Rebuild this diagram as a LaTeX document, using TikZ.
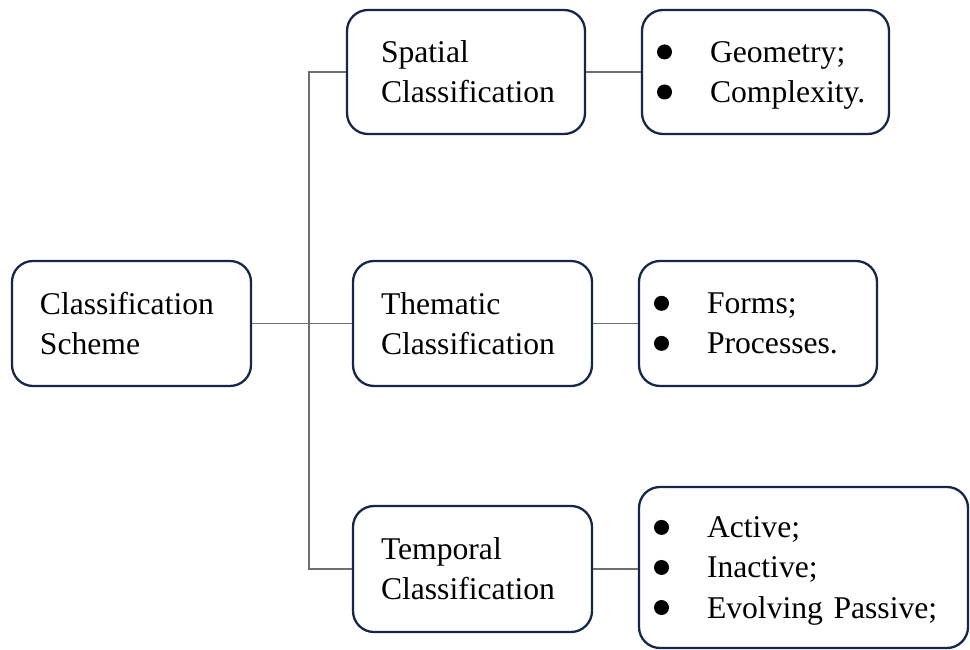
\documentclass[tikz,border=0pt]{standalone}
\usepackage{fontspec}
\setmainfont{Liberation Serif}
\definecolor{boxline}{RGB}{22,38,72}
\definecolor{linkgray}{RGB}{110,110,110}
\newcommand{\itemdot}{\makebox[1.06cm][l]{\tikz[baseline=0pt]\fill (0.15,0.21) circle (0.15cm);}}
\tikzset{
  box/.style={draw=boxline, line width=1.3pt, rounded corners=0.42cm, fill=white,
    align=left, inner xsep=0.56cm, inner ysep=0pt,
    font=\fontsize{18}{22.8}\selectfont},
  listbox/.style={box, inner xsep=0.3cm},
  link/.style={draw=linkgray, line width=0.8pt}
}
\begin{document}
\begin{tikzpicture}
  \useasboundingbox (0,0) rectangle (19.4,-13);

  \node[box, text width=3.66cm, minimum height=2.5cm] (scheme) at (2.63,-6.47) {Classification\\Scheme};
  \node[box, inner xsep=0.68cm, text width=3.4cm, minimum height=2.48cm] (spatial) at (9.32,-1.44) {Spatial\\Classification};
  \node[box, text width=3.66cm, minimum height=2.5cm] (thematic) at (9.45,-6.47) {Thematic\\Classification};
  \node[box, text width=3.66cm, minimum height=2.52cm] (temporal) at (9.45,-11.38) {Temporal\\Classification};

  % last lines smashed so descenders do not lift the lists
  \node[listbox, text width=4.34cm, minimum height=2.48cm] (geom) at (15.31,-1.44) {\itemdot Geometry;\\\smash{\itemdot Complexity.}};
  \node[listbox, text width=4.16cm, minimum height=2.5cm] (forms) at (15.16,-6.47) {\itemdot Forms;\\\smash{\itemdot Processes.}};
  \node[listbox, text width=5.98cm, minimum height=3.22cm] (state) at (16.07,-11.35) {\itemdot Active;\\\itemdot Inactive;\\\smash{\itemdot Evolving Passive;}};

  \coordinate (jtop) at (6.18,-1.44);
  \coordinate (jbot) at (6.18,-11.38);

  \draw[link] (scheme.east) -- (thematic.west);
  \draw[link] (spatial.west) -- (jtop) -- (jbot) -- (temporal.west);
  \draw[link] (spatial.east) -- (geom.west);
  \draw[link] (thematic.east) -- (forms.west);
  \draw[link] (temporal.east) -- (temporal.east -| state.west);
\end{tikzpicture}
\end{document}
